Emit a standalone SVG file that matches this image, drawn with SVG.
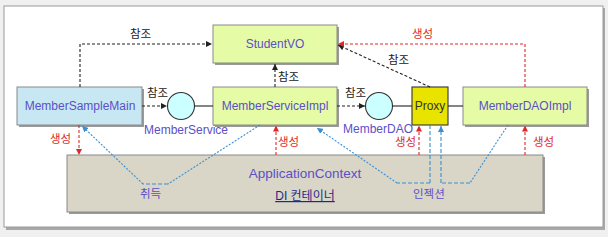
<svg xmlns="http://www.w3.org/2000/svg" width="608" height="237" viewBox="0 0 608 237">
<style>
text{font-family:"Liberation Sans","Noto Sans CJK KR",sans-serif}
.nl{font-size:12px;fill:#5a50c8;text-anchor:middle}
.k{font-size:11.5px;fill:#222}
.r{font-size:11.5px;fill:#e02828}
.p{font-size:11.5px;fill:#5a50c8}
.bx{stroke:#8a8a8a;stroke-width:1}
.sh{fill:#9a9a9a}
.bl{fill:none;stroke:#222;stroke-width:1.1;stroke-dasharray:3,2}
.sl{fill:none;stroke:#222;stroke-width:1.1}
.rd{fill:none;stroke:#e02828;stroke-width:1.1;stroke-dasharray:3,2}
.bu{fill:none;stroke:#3a8fd2;stroke-width:1.1;stroke-dasharray:2,1.5}
.bh{fill:none;stroke:#3a8fd2;stroke-width:1.1;stroke-dasharray:4,2}
</style>
<defs>
<marker id="ak" viewBox="0 0 10 10" refX="10" refY="5" markerWidth="6" markerHeight="6" orient="auto" markerUnits="userSpaceOnUse"><path d="M0,0L10,5L0,10z" fill="#222"/></marker>
<marker id="ar" viewBox="0 0 10 10" refX="10" refY="5" markerWidth="6" markerHeight="6" orient="auto" markerUnits="userSpaceOnUse"><path d="M0,0L10,5L0,10z" fill="#e02828"/></marker>
<marker id="ab" viewBox="0 0 10 10" refX="10" refY="5" markerWidth="6" markerHeight="6" orient="auto" markerUnits="userSpaceOnUse"><path d="M0,0L10,5L0,10z" fill="#3a8fd2"/></marker>
</defs>
<rect x="0" y="0" width="608" height="237" fill="#f0f0f0"/>
<rect x="6" y="8" width="599" height="222" fill="#a8a8a8"/>
<rect x="4" y="6" width="599" height="221" fill="#fff" stroke="#9a9a9a"/>

<g id="appctx">
<rect x="69" y="157" width="476" height="57" class="sh"/>
<rect x="67" y="155" width="476" height="57" fill="#d9d5c7" class="bx"/>
<text x="305" y="178" style="font-size:13.5px;fill:#5a50c8;text-anchor:middle">ApplicationContext</text>
<text x="305" y="200" style="font-size:12px;fill:#1e2a8a;text-anchor:middle;text-decoration:underline">DI 컨테이너</text>
</g>

<g id="studentvo">
<rect x="215" y="27" width="124" height="38" class="sh"/>
<rect x="213" y="25" width="124" height="38" fill="#e5fba6" class="bx"/>
<text x="275" y="48" class="nl">StudentVO</text>
</g>
<g id="membersamplemain">
<rect x="19" y="89" width="125" height="38" class="sh"/>
<rect x="17" y="87" width="125" height="38" fill="#c7e8f3" class="bx"/>
<text x="80" y="110" class="nl">MemberSampleMain</text>
</g>
<g id="memberservice">
<circle cx="181" cy="106" r="13.5" fill="#ccffff" stroke="#333" stroke-width="1.1"/>
<text x="144" y="134" class="nl" style="text-anchor:start">MemberService</text>
</g>
<g id="memberserviceimpl">
<rect x="215" y="89" width="124" height="38" class="sh"/>
<rect x="213" y="87" width="124" height="38" fill="#e5fba6" class="bx"/>
<text x="275" y="110" class="nl">MemberServiceImpl</text>
</g>
<g id="memberdao">
<circle cx="379" cy="106" r="13.5" fill="#ccffff" stroke="#333" stroke-width="1.1"/>
<text x="343" y="133" class="nl" style="text-anchor:start">MemberDAO</text>
</g>
<g id="proxy">
<rect x="412" y="87" width="36" height="38" fill="#e8e400" stroke="#333" stroke-width="1.1"/>
<text x="430" y="110" class="nl" style="fill:#333">Proxy</text>
</g>
<g id="memberdaoimpl">
<rect x="465" y="89" width="124" height="38" class="sh"/>
<rect x="463" y="87" width="124" height="38" fill="#e5fba6" class="bx"/>
<text x="525" y="110" class="nl">MemberDAOImpl</text>
</g>

<g id="connectors">
<path d="M80,87V44H212" class="bl" marker-end="url(#ak)"/>
<path d="M142,106H167" class="bl" marker-end="url(#ak)"/>
<path d="M194.5,106H213" class="sl"/>
<path d="M275,87V64" class="bl" marker-end="url(#ak)"/>
<path d="M337,106H365" class="bl" marker-end="url(#ak)"/>
<path d="M392.5,106H412" class="sl"/>
<path d="M448,106H463" class="sl"/>
<path d="M430,87L338,45" class="bl" marker-end="url(#ak)"/>
<path d="M525,87V44H338" class="rd" marker-end="url(#ar)"/>
<path d="M79,125V155" class="rd" marker-end="url(#ar)"/>
<path d="M276,155V125.5" class="rd" marker-end="url(#ar)"/>
<path d="M419,155V125.5" class="rd" marker-end="url(#ar)"/>
<path d="M525,155V125.5" class="rd" marker-end="url(#ar)"/>
<path d="M260,125L168,184" class="bu"/>
<path d="M168,184H143" class="bh"/>
<path d="M143,184L82,126" class="bu" marker-end="url(#ab)"/>
<path d="M430,125V183" class="bh"/>
<path d="M430,183H397" class="bh"/>
<path d="M397,183L317,128" class="bu" marker-end="url(#ab)"/>
<path d="M508,125L470,183" class="bu"/>
<path d="M470,183H441" class="bh"/>
<path d="M441,183V126" class="bh" marker-end="url(#ab)"/>
</g>

<g id="labels">
<text x="130" y="38" class="k">참조</text>
<text x="147" y="97" class="k">참조</text>
<text x="278" y="81" class="k">참조</text>
<text x="345" y="97" class="k">참조</text>
<text x="388" y="64" class="k">참조</text>
<text x="412" y="38" class="r">생성</text>
<text x="50" y="143" class="r">생성</text>
<text x="278" y="146" class="r">생성</text>
<text x="395" y="146" class="r">생성</text>
<text x="533" y="146" class="r">생성</text>
<text x="140" y="198" class="p">취득</text>
<text x="413" y="198" class="p">인젝션</text>
</g>
</svg>
